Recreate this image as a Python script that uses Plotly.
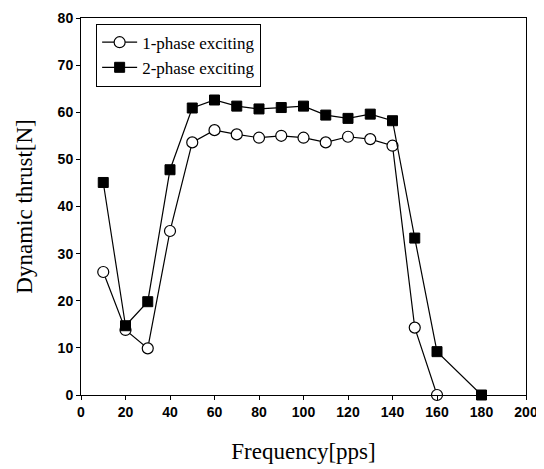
import plotly.graph_objects as go

freq_1 = [10, 20, 30, 40, 50, 60, 70, 80, 90, 100, 110, 120, 130, 140, 150, 160]
thrust_1 = [26.1, 13.8, 9.9, 34.8, 53.6, 56.2, 55.3, 54.6, 55.0, 54.6, 53.6, 54.8, 54.3, 52.9, 14.3, 0.0]

freq_2 = [10, 20, 30, 40, 50, 60, 70, 80, 90, 100, 110, 120, 130, 140, 150, 160, 180]
thrust_2 = [45.1, 14.7, 19.8, 47.8, 60.9, 62.6, 61.3, 60.7, 61.0, 61.3, 59.4, 58.7, 59.6, 58.2, 33.3, 9.2, 0.0]

x_ticks = [0, 20, 40, 60, 80, 100, 120, 140, 160, 180, 200]
y_ticks = [0, 10, 20, 30, 40, 50, 60, 70, 80]

fig = go.Figure()
fig.add_trace(go.Scatter(
    x=freq_1, y=thrust_1, mode="lines+markers", name="1-phase exciting",
    line=dict(color="black", width=1.2),
    marker=dict(symbol="circle", size=11, color="white", line=dict(color="black", width=1.2)),
    cliponaxis=False,
))
fig.add_trace(go.Scatter(
    x=freq_2, y=thrust_2, mode="lines+markers", name="2-phase exciting",
    line=dict(color="black", width=1.2),
    marker=dict(symbol="square", size=10, color="black", line=dict(color="black", width=1)),
    cliponaxis=False,
))

tick_font = dict(family="Liberation Sans", size=14, color="black", weight="bold")
title_font = dict(family="Liberation Serif", size=23, color="black")

# page body has an 8px margin, so the figure is sized to fit inside the window
fig.update_layout(
    width=536, height=461,
    margin=dict(l=73, r=18, t=10, b=74, autoexpand=False),
    paper_bgcolor="white", plot_bgcolor="white",
    showlegend=True,
    legend=dict(
        x=0.034, y=0.985, xanchor="left", yanchor="top",
        bordercolor="black", borderwidth=1, bgcolor="white",
        font=dict(family="Liberation Serif", size=17, color="black"),
        tracegroupgap=0, itemwidth=35,
    ),
    xaxis=dict(
        range=[0, 200], tickvals=x_ticks, ticktext=[str(v) for v in x_ticks],
        showgrid=False, zeroline=False, showline=True, linecolor="black", linewidth=1,
        mirror=True, ticks="outside", ticklen=4, tickcolor="black", automargin=False,
        tickfont=tick_font, ticklabeloverflow="allow",
        title=dict(text="Frequency[pps]", font=title_font, standoff=24),
    ),
    yaxis=dict(
        range=[0, 80], tickvals=y_ticks, ticktext=[str(v) for v in y_ticks],
        showgrid=False, zeroline=False, showline=True, linecolor="black", linewidth=1,
        mirror=True, ticks="outside", ticklen=4, tickcolor="black", automargin=False,
        tickfont=tick_font, ticklabeloverflow="allow",
        title=dict(text="Dynamic thrust[N]", font=title_font, standoff=18),
    ),
)

fig.write_html("out.html")
